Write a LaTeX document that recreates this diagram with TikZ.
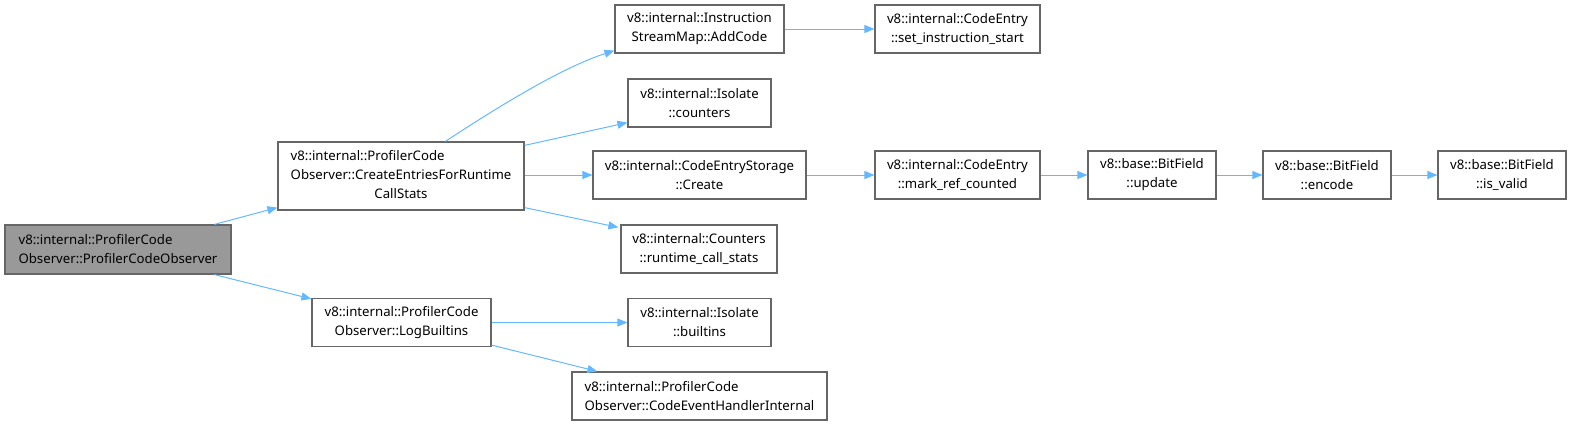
\documentclass[tikz,border=0pt]{standalone}
\usepackage{fontspec}
\setmainfont{Noto Sans}
\usetikzlibrary{arrows.meta,calc}
\definecolor{edgeblue}{HTML}{63B8FF}
\definecolor{boxgray}{HTML}{666666}
\definecolor{rootfill}{HTML}{999999}
\begin{document}
\begin{tikzpicture}[x=1pt,y=-1pt,
  every node/.style={font=\fontsize{13.2}{19}\selectfont},
  fn/.style={draw=boxgray, line width=1.2pt, fill=white, inner sep=0pt, align=center, minimum height=48pt},
  edge/.style={draw=edgeblue, line width=1pt, -{Triangle[length=10pt,width=8pt]}}]
\useasboundingbox (0,0) rectangle (1572,426);
\node[fn, fill=rootfill, align=left, minimum width=226, minimum height=49] (root) at (118,249.5) {v8::internal::ProfilerCode\\Observer::ProfilerCodeObserver};
\node[fn, minimum width=246, minimum height=68] (CE) at (401,176) {\begin{tabular}{@{}l@{}}v8::internal::ProfilerCode\\Observer::CreateEntriesForRuntime\\\multicolumn{1}{@{}c@{}}{CallStats}\end{tabular}};
\node[fn, minimum width=179] (LB) at (401.5,322.5) {v8::internal::ProfilerCode\\Observer::LogBuiltins};
\node[fn, minimum width=169] (AddCode) at (699.5,29) {v8::internal::Instruction\\StreamMap::AddCode};
\node[fn, minimum width=165] (setis) at (957.5,29) {v8::internal::CodeEntry\\::set\_instruction\_start};
\node[fn, minimum width=143] (counters) at (699.5,103) {v8::internal::Isolate\\::counters};
\node[fn, minimum width=213] (Create) at (699.5,175) {v8::internal::CodeEntryStorage\\::Create};
\node[fn, minimum width=165] (mark) at (957.5,175) {v8::internal::CodeEntry\\::mark\_ref\_counted};
\node[fn, minimum width=128] (update) at (1152,175) {v8::base::BitField\\::update};
\node[fn, minimum width=128] (encode) at (1327,175) {v8::base::BitField\\::encode};
\node[fn, minimum width=128] (isvalid) at (1502,175) {v8::base::BitField\\::is\_valid};
\node[fn, minimum width=156] (runtime) at (699,249) {v8::internal::Counters\\::runtime\_call\_stats};
\node[fn, minimum width=143] (builtins) at (699.5,322.5) {v8::internal::Isolate\\::builtins};
\node[fn, align=left, minimum width=255] (CEHI) at (699.5,396) {v8::internal::ProfilerCode\\Observer::CodeEventHandlerInternal};
\draw[edge] ($(root.north west)+(210,0)$) -- ($(CE.south west)+(0,-3)$);
\draw[edge] ($(root.south west)+(210,0)$) -- ($(LB.north west)+(0,1)$);
\draw[edge] ($(CE.north west)+(168,0)$) .. controls (490,112) and (560,68) .. ($(AddCode.south west)+(0,-3)$);
\draw[edge] ($(CE.north east)+(0,4)$) -- ($(counters.south west)+(0,-5)$);
\draw[edge] (Create.west -| CE.east) -- (Create.west);
\draw[edge] ($(CE.south east)+(0,-3)$) -- ($(runtime.north west)+(-2,3)$);
\draw[edge] (LB.east) -- (builtins.west);
\draw[edge] ($(LB.south east)+(0,-2)$) -- ($(CEHI.north west)+(26,0)$);
\draw[edge] (AddCode.east) -- (setis.west);
\draw[edge] (Create.east) -- (mark.west);
\draw[edge] (mark.east) -- (update.west);
\draw[edge] (update.east) -- (encode.west);
\draw[edge] (encode.east) -- (isvalid.west);
\end{tikzpicture}
\end{document}
